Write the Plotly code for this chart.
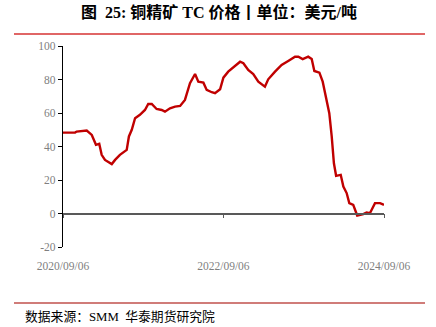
import plotly.graph_objects as go

dates = [
    "2020-09-06", "2020-10-31", "2020-11-07", "2020-12-23", "2021-01-15", "2021-02-03",
    "2021-02-18", "2021-03-01", "2021-03-16", "2021-03-31", "2021-04-16", "2021-05-01",
    "2021-05-23", "2021-06-23", "2021-07-03", "2021-07-16", "2021-07-31", "2021-08-22",
    "2021-09-14", "2021-09-29", "2021-10-15", "2021-11-06", "2021-11-29", "2021-12-14",
    "2022-01-06", "2022-01-29", "2022-02-21", "2022-03-15", "2022-04-07", "2022-04-30",
    "2022-05-15", "2022-06-07", "2022-06-22", "2022-07-15", "2022-07-30", "2022-08-22",
    "2022-09-06", "2022-09-28", "2022-10-21", "2022-11-21", "2022-12-06", "2022-12-28",
    "2023-01-20", "2023-02-12", "2023-03-14", "2023-03-29", "2023-04-29", "2023-05-29",
    "2023-06-28", "2023-07-29", "2023-08-13", "2023-09-02", "2023-09-27", "2023-10-13",
    "2023-10-25", "2023-11-17", "2023-12-02", "2023-12-17", "2024-01-01", "2024-01-12",
    "2024-01-22", "2024-02-01", "2024-02-22", "2024-03-05", "2024-03-20", "2024-04-01",
    "2024-04-19", "2024-05-07", "2024-06-04", "2024-06-19", "2024-07-04", "2024-07-27",
    "2024-08-19", "2024-09-06",
]
tc_price = [
    48.3, 48.3, 48.9, 49.5, 46.9, 41.0,
    41.6, 35.0, 32.0, 31.0, 29.5, 32.0,
    35.0, 38.0, 46.0, 50.0, 56.9, 58.9,
    61.8, 65.4, 65.4, 62.4, 61.8, 60.8,
    62.8, 63.8, 64.2, 67.8, 77.8, 83.3,
    78.7, 78.1, 73.8, 72.4, 71.8, 74.2,
    81.1, 84.7, 87.1, 90.6, 89.7, 85.7,
    83.3, 78.7, 75.7, 80.1, 84.7, 88.7,
    91.1, 93.6, 93.6, 92.2, 93.6, 92.2,
    85.1, 84.1, 78.7, 68.8, 59.9, 46.0,
    30.0, 22.5, 23.1, 16.1, 12.2, 6.2,
    5.2, -1.2, -0.4, 0.6, 0.2, 6.2,
    6.2, 5.2,
]
x_ticks = ["2020-09-06", "2022-09-06", "2024-09-06"]
x_tick_labels = ["2020/09/06", "2022/09/06", "2024/09/06"]
y_ticks = [-20, 0, 20, 40, 60, 80, 100]
y_tick_labels = ["-20", "0", "20", "40", "60", "80", "100"]

title_text = "图  25: 铜精矿 TC 价格丨单位：美元/吨"
source_text = "数据来源：SMM  华泰期货研究院"

serif = "Liberation Serif, Times New Roman, serif"
cjk = "Liberation Serif, Noto Sans CJK SC, sans-serif"

fig = go.Figure()
fig.add_trace(go.Scatter(
    x=dates, y=tc_price, mode="lines",
    line=dict(color="#C00000", width=2.4),
    xaxis="x", yaxis="y", hoverinfo="skip", showlegend=False,
))
# invisible copy for the zero-positioned axis line
fig.add_trace(go.Scatter(
    x=dates, y=tc_price, mode="lines", opacity=0,
    line=dict(color="rgba(0,0,0,0)", width=0),
    xaxis="x2", yaxis="y", hoverinfo="skip", showlegend=False,
))

xr = ["2020-09-06", "2024-09-06"]
fig.update_layout(
    width=436, height=327,
    margin=dict(l=63, r=52, t=46, b=80),
    paper_bgcolor="white", plot_bgcolor="white",
    showlegend=False,
    xaxis=dict(
        range=xr, type="date",
        tickvals=x_ticks, ticktext=x_tick_labels,
        showline=False, showgrid=False, zeroline=False,
        ticks="outside", ticklen=8, tickcolor="rgba(0,0,0,0)",
        tickfont=dict(family=serif, size=11.5, color="#7F7F7F"),
    ),
    xaxis2=dict(
        range=xr, type="date", overlaying="x", anchor="free", position=20 / 120,
        tickvals=x_ticks, showticklabels=False,
        showline=True, linecolor="#595959", linewidth=1.5,
        ticks="outside", ticklen=4, tickcolor="#595959", tickwidth=1,
        showgrid=False, zeroline=False,
    ),
    yaxis=dict(
        range=[-20, 100], tickvals=y_ticks, ticktext=y_tick_labels,
        showline=True, linecolor="black", linewidth=1.2,
        ticks="outside", ticklen=4, tickcolor="black",
        showgrid=False, zeroline=False,
        tickfont=dict(family=serif, size=11.5, color="#7F7F7F"),
    ),
    shapes=[
        dict(type="line", xref="paper", yref="paper",
             x0=-49 / 321, x1=362 / 321, y0=1 + 12 / 201, y1=1 + 12 / 201,
             line=dict(color="#E06666", width=2)),
        dict(type="line", xref="paper", yref="paper",
             x0=-49 / 321, x1=362 / 321, y0=-56 / 201, y1=-56 / 201,
             line=dict(color="#C0504D", width=1.5)),
    ],
    annotations=[
        dict(text="<b>" + title_text + "</b>", xref="paper", yref="paper",
             x=156 / 321, y=1 + 34 / 201, xanchor="center", yanchor="middle",
             showarrow=False, font=dict(family=cjk, size=16, color="black")),
        dict(text=source_text, xref="paper", yref="paper",
             x=-40 / 321, y=-69 / 201, xanchor="left", yanchor="middle",
             showarrow=False, font=dict(family=cjk, size=12.8, color="black")),
    ],
)

fig.write_html("out.html")
